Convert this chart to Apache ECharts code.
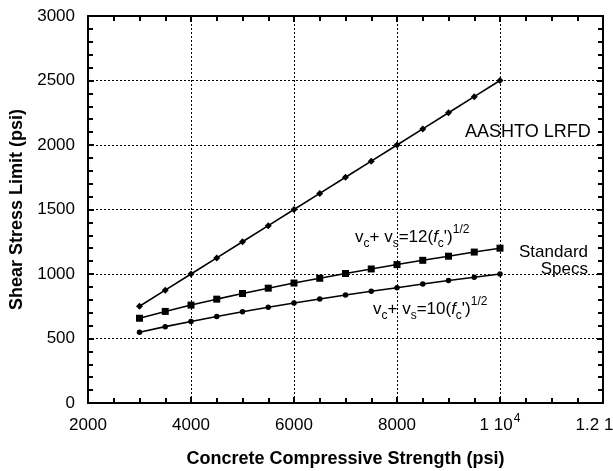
<!DOCTYPE html>
<html>
<head>
<meta charset="utf-8">
<script src="https://cdn.jsdelivr.net/npm/echarts@6/dist/echarts.min.js"></script>
<style>
html,body{margin:0;padding:0;background:#fff;}
#c{width:613px;height:471px;}
</style>
</head>
<body>
<div id="c"></div>
<script>
// Concrete compressive strength f'c (psi)
var strength = [3000, 3500, 4000, 4500, 5000, 5500, 6000, 6500, 7000, 7500, 8000, 8500, 9000, 9500, 10000];
// AASHTO LRFD limit
var aashto = [750, 875, 1000, 1125, 1250, 1375, 1500, 1625, 1750, 1875, 2000, 2125, 2250, 2375, 2500];
// Standard Specs: vc + vs = 12 sqrt(f'c)
var std12 = [657, 710, 759, 805, 849, 890, 930, 967, 1004, 1039, 1073, 1106, 1138, 1170, 1200];
// vc + vs = 10 sqrt(f'c)
var std10 = [548, 592, 632, 671, 707, 742, 775, 806, 837, 866, 894, 922, 949, 975, 1000];

// x tick labels: [mantissa text, exponent text]
var xTicks = {2000: ['2000', ''], 4000: ['4000', ''], 6000: ['6000', ''], 8000: ['8000', ''],
              10000: ['1 10', '4'], 12000: ['1.2 10', '4']};
var yTicks = [0, 500, 1000, 1500, 2000, 2500, 3000];

function pairs(xs, ys) { return xs.map(function (x, i) { return [x, ys[i]]; }); }

var FONT = '"Liberation Sans", Arial, Helvetica, sans-serif';
var chart = echarts.init(document.getElementById('c'), null, {renderer: 'canvas'});

var gridLine = {show: true, lineStyle: {color: '#000', width: 1, type: [2, 2]}};
var frameLine = {show: true, onZero: false, lineStyle: {color: '#000', width: 2}};
var tick = {show: true, inside: true, length: 6, lineStyle: {color: '#000', width: 2}};
var minorTick = {show: true, splitNumber: 4, length: 5, lineStyle: {color: '#000', width: 2}};

var option = {
  animation: false,
  backgroundColor: '#fff',
  grid: {left: 88, right: 10, top: 16, bottom: 68, containLabel: false, outerBoundsMode: 'none'},
  xAxis: [{
    type: 'value', min: 2000, max: 12000, interval: 2000,
    position: 'bottom',
    name: 'Concrete Compressive Strength (psi)', nameLocation: 'middle', nameGap: 47,
    nameTextStyle: {fontFamily: FONT, fontSize: 18, fontWeight: 'bold', color: '#000'},
    axisLine: frameLine, axisTick: tick,
    minorTick: minorTick,
    axisLabel: {margin: 10, fontFamily: FONT, fontSize: 17, color: '#000', hideOverlap: false,
      formatter: function (v) {
        var t = xTicks[v];
        if (!t) return '';
        return '{n|' + t[0] + '}' + (t[1] ? '{s|' + t[1] + '}' : '');
      },
      rich: {
        n: {fontFamily: FONT, fontSize: 17, lineHeight: 24, verticalAlign: 'middle', color: '#000'},
        s: {fontFamily: FONT, fontSize: 12, lineHeight: 14, verticalAlign: 'top', color: '#000', padding: [0, 0, 0, 1]}
      }},
    splitLine: gridLine
  }, {
    type: 'value', min: 2000, max: 12000, interval: 2000,
    position: 'top',
    axisLine: frameLine, axisTick: tick,
    minorTick: minorTick,
    axisLabel: {show: false}, splitLine: {show: false}
  }],
  yAxis: [{
    type: 'value', min: 0, max: 3000, interval: 500,
    position: 'left',
    name: 'Shear Stress Limit (psi)', nameLocation: 'middle', nameGap: 55, nameRotate: 90,
    nameTextStyle: {fontFamily: FONT, fontSize: 18, fontWeight: 'bold', color: '#000'},
    axisLine: frameLine, axisTick: tick,
    minorTick: {show: true, splitNumber: 5, length: 5, lineStyle: {color: '#000', width: 2}},
    axisLabel: {margin: 13, fontFamily: FONT, fontSize: 17, color: '#000',
      formatter: function (v) { return yTicks.indexOf(v) >= 0 ? String(v) : ''; }},
    splitLine: gridLine
  }, {
    type: 'value', min: 0, max: 3000, interval: 500,
    position: 'right',
    axisLine: frameLine, axisTick: tick,
    minorTick: {show: true, splitNumber: 5, length: 5, lineStyle: {color: '#000', width: 2}},
    axisLabel: {show: false}, splitLine: {show: false}
  }],
  series: [{
    name: 'AASHTO LRFD', type: 'line', data: pairs(strength, aashto),
    symbol: 'diamond', symbolSize: 7,
    lineStyle: {color: '#000', width: 1.6}, itemStyle: {color: '#000'}
  }, {
    name: 'Standard Specs 12', type: 'line', data: pairs(strength, std12),
    symbol: 'rect', symbolSize: 7,
    lineStyle: {color: '#000', width: 1.6}, itemStyle: {color: '#000'}
  }, {
    name: 'Standard Specs 10', type: 'line', data: pairs(strength, std10),
    symbol: 'circle', symbolSize: 5.5,
    lineStyle: {color: '#000', width: 1.6}, itemStyle: {color: '#000'}
  }],
  graphic: [{
    type: 'text', x: 465, y: 123,
    style: {text: 'AASHTO LRFD', fontFamily: FONT, fontSize: 18, fill: '#000', verticalAlign: 'top'}
  }, {
    type: 'text', x: 588, y: 244,
    style: {text: 'Standard\nSpecs', fontFamily: FONT, fontSize: 17, lineHeight: 17, fill: '#000',
      align: 'right', verticalAlign: 'top'}
  }, {
    type: 'text', x: 355, y: 224,
    style: {
      text: '{m|v}{b|c}{m|+ v}{b|s}{m|=12(}{i|f}{b|c}{m|\')}{t|1/2}',
      fontFamily: FONT, fill: '#000', verticalAlign: 'top',
      rich: {
        m: {fontFamily: FONT, fontSize: 17, lineHeight: 26, verticalAlign: 'middle', fill: '#000'},
        i: {fontFamily: FONT, fontSize: 17, fontStyle: 'italic', lineHeight: 26, verticalAlign: 'middle', fill: '#000'},
        b: {fontFamily: FONT, fontSize: 12, lineHeight: 12, verticalAlign: 'bottom', fill: '#000'},
        t: {fontFamily: FONT, fontSize: 12, lineHeight: 12, verticalAlign: 'top', fill: '#000'}
      }
    }
  }, {
    type: 'text', x: 373, y: 296,
    style: {
      text: '{m|v}{b|c}{m|+ v}{b|s}{m|=10(}{i|f}{b|c}{m|\')}{t|1/2}',
      fontFamily: FONT, fill: '#000', verticalAlign: 'top',
      rich: {
        m: {fontFamily: FONT, fontSize: 17, lineHeight: 26, verticalAlign: 'middle', fill: '#000'},
        i: {fontFamily: FONT, fontSize: 17, fontStyle: 'italic', lineHeight: 26, verticalAlign: 'middle', fill: '#000'},
        b: {fontFamily: FONT, fontSize: 12, lineHeight: 12, verticalAlign: 'bottom', fill: '#000'},
        t: {fontFamily: FONT, fontSize: 12, lineHeight: 12, verticalAlign: 'top', fill: '#000'}
      }
    }
  }]
};
chart.setOption(option);
</script>
</body>
</html>
